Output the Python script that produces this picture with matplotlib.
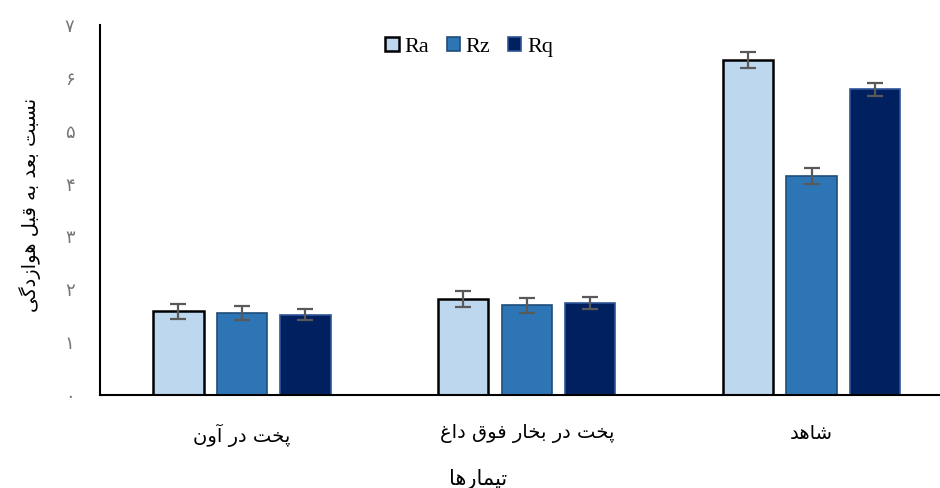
import matplotlib
matplotlib.use("Agg")
import matplotlib.pyplot as plt
import numpy as np

# data
categories = ["پخت در آون", "پخت در بخار فوق داغ", "شاهد"]
series = ["Ra", "Rz", "Rq"]
ra = [1.58, 1.81, 6.34]
rz = [1.55, 1.70, 4.15]
rq = [1.52, 1.74, 5.78]
ra_err = [0.15, 0.15, 0.15]
rz_err = [0.14, 0.14, 0.15]
rq_err = [0.11, 0.12, 0.12]
yticks = [0, 1, 2, 3, 4, 5, 6, 7]
ytick_labels = ["۰", "۱", "۲", "۳", "۴", "۵", "۶", "۷"]
xlabel = "تیمارها"
ylabel = "نسبت بعد به قبل هوازدگی"

# minimal arabic/persian shaping (matplotlib has no complex text layout)
# letter -> (isolated, final, initial, medial); 2-form letters don't join forward
FORMS = {
    "ا": (0xFE8D, 0xFE8E), "آ": (0xFE81, 0xFE82),
    "د": (0xFEA9, 0xFEAA), "ر": (0xFEAD, 0xFEAE),
    "ز": (0xFEAF, 0xFEB0), "و": (0xFEED, 0xFEEE),
    "ب": (0xFE8F, 0xFE90, 0xFE91, 0xFE92), "پ": (0xFB56, 0xFB57, 0xFB58, 0xFB59),
    "ت": (0xFE95, 0xFE96, 0xFE97, 0xFE98), "خ": (0xFEA5, 0xFEA6, 0xFEA7, 0xFEA8),
    "س": (0xFEB1, 0xFEB2, 0xFEB3, 0xFEB4), "ش": (0xFEB5, 0xFEB6, 0xFEB7, 0xFEB8),
    "ع": (0xFEC9, 0xFECA, 0xFECB, 0xFECC), "غ": (0xFECD, 0xFECE, 0xFECF, 0xFED0),
    "ف": (0xFED1, 0xFED2, 0xFED3, 0xFED4), "ق": (0xFED5, 0xFED6, 0xFED7, 0xFED8),
    "ل": (0xFEDD, 0xFEDE, 0xFEDF, 0xFEE0), "م": (0xFEE1, 0xFEE2, 0xFEE3, 0xFEE4),
    "ن": (0xFEE5, 0xFEE6, 0xFEE7, 0xFEE8), "ه": (0xFEE9, 0xFEEA, 0xFEEB, 0xFEEC),
    "ی": (0xFBFC, 0xFBFD, 0xFBFE, 0xFBFF), "گ": (0xFB92, 0xFB93, 0xFB94, 0xFB95),
}

def shape(text):
    out = []
    for i, ch in enumerate(text):
        if ch not in FORMS:
            out.append(ch)
            continue
        prev = text[i - 1] if i > 0 else ""
        nxt = text[i + 1] if i + 1 < len(text) else ""
        join_prev = prev in FORMS and len(FORMS[prev]) == 4
        join_next = len(FORMS[ch]) == 4 and nxt in FORMS
        f = FORMS[ch]
        if join_prev and join_next:
            out.append(chr(f[3]))
        elif join_prev:
            out.append(chr(f[1]))
        elif join_next:
            out.append(chr(f[2]))
        else:
            out.append(chr(f[0]))
    return "".join(out[::-1])

fa_font = ["DejaVu Sans"]
colors = ["#BDD7EE", "#2E75B6", "#002060"]
edges = ["#000000", "#1F4E79", "#2F5597"]

fig = plt.figure(figsize=(9.4, 4.88), dpi=100)
ax_w = 854.5
ax = fig.add_axes([99.5 / 940, 93 / 488, ax_w / 940, 370 / 488])

x = np.arange(len(categories))
w = 0.177
step = 0.223
vals = [ra, rz, rq]
errs = [ra_err, rz_err, rq_err]
for k in range(3):
    ax.bar(x + (k - 1) * step, vals[k], width=w, color=colors[k],
           edgecolor=edges[k], linewidth=1.8 if k == 0 else 1.2,
           yerr=errs[k], label=series[k],
           error_kw=dict(ecolor="#595959", elinewidth=1.6, capsize=5.5, capthick=1.6))

ax.set_xlim(-0.5, 2.5)
ax.set_ylim(0, 7)
ax.set_yticks(yticks)
ax.set_yticklabels(ytick_labels, fontsize=13, color="#767676", family=fa_font)
ax.set_xticks(x)
ax.set_xticklabels([shape(c) for c in categories], fontsize=14, family=fa_font)
ax.tick_params(axis="y", length=0, pad=18)
ax.tick_params(axis="x", length=0, pad=21)

for s in ["top", "right"]:
    ax.spines[s].set_visible(False)
ax.spines["left"].set_linewidth(1.5)
ax.spines["bottom"].set_linewidth(1.5)

ax.set_xlabel(shape(xlabel), fontsize=15, family=fa_font)
ax.xaxis.set_label_coords((478 - 99.5) / ax_w, -(479 - 395) / 370)
ax.xaxis.label.set_va("center")
ax.set_ylabel(shape(ylabel), fontsize=14, family=fa_font)
ax.yaxis.set_label_coords(-(99.5 - 30) / ax_w, (395 - 205) / 370)
ax.yaxis.label.set_va("center")

ax.legend(loc="center", bbox_to_anchor=(469 / 940, 1 - 47 / 488),
          bbox_transform=fig.transFigure, ncol=3, frameon=False,
          prop={"family": "Liberation Serif", "size": 16},
          handlelength=0.6, handleheight=0.6, handletextpad=0.25,
          columnspacing=0.8)

fig.savefig("out.png", dpi=100)
